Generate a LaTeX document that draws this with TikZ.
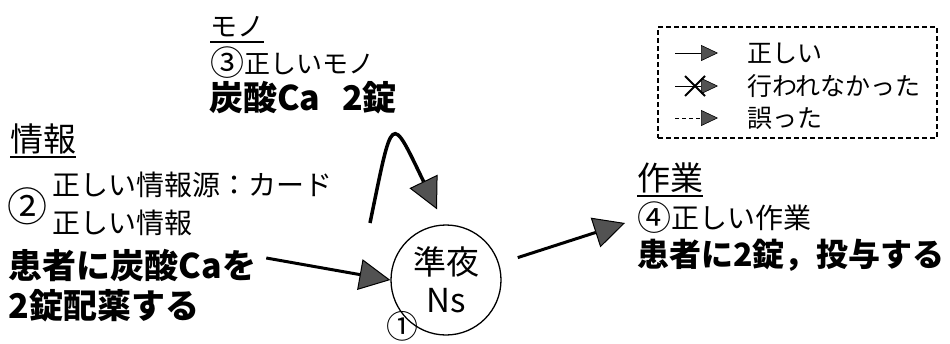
\documentclass[tikz,border=0pt]{standalone}
\usepackage{fontspec}
\setmainfont{Noto Sans CJK JP}
\usetikzlibrary{arrows.meta,calc}
\newcommand{\circnum}[2]{\raisebox{-#2}{\fontsize{34}{34}\selectfont #1}}
\begin{document}
\begin{tikzpicture}[x=1pt,y=-1pt,
  txt/.style={anchor=base west, inner sep=0pt, outer sep=0pt},
  reg/.style={txt, font=\fontsize{28}{34}\selectfont},
  bld/.style={txt, font=\fontsize{33}{40}\selectfont\bfseries},
  head/.style={txt, font=\fontsize{33}{40}\selectfont},
  legtxt/.style={txt, font=\fontsize{25}{28}\selectfont},
  uline/.style={line width=1.5pt},
  bigarrow/.style={line width=3pt, -{Triangle[length=31pt,width=31pt,fill=black!68,line width=1pt]}},
  legarrow/.style={line width=1pt, -{Triangle[length=17pt,width=16pt,fill=black!68,line width=0.6pt]}}
]
\useasboundingbox (0,0) rectangle (950,343);

% モノ
\node[txt, font=\fontsize{27}{32}\selectfont] (mono) at (210,36) {モノ};
\draw[uline] ([yshift=-6pt]mono.base west) -- ([yshift=-6pt]mono.base east);
\node[txt, font=\fontsize{26}{30}\selectfont] (m2) at (210,73) {\circnum{③}{2pt}正しいモノ};
\node[txt, font=\fontsize{34}{40}\selectfont\bfseries] (m3) at (209,110) {炭酸Ca\hspace{22pt}2錠};

% 情報
\node[head] (info) at (10,151) {情報};
\draw[uline] ([yshift=-6pt]info.base west) -- ([yshift=-6pt]info.base east);
\node[txt, font=\fontsize{40}{40}\selectfont] (c2) at (8,221) {②};
\node[reg] (i1) at (52,195) {正しい情報源：カード};
\node[reg] (i2) at (52,233) {正しい情報};
\node[txt, font=\fontsize{34}{40}\selectfont\bfseries] (i3) at (9,278) {患者に炭酸Caを};
\node[txt, font=\fontsize{34}{40}\selectfont\bfseries] (i4) at (9,318) {2錠配薬する};

% center
\node[circle, draw, line width=1.3pt, minimum size=110pt, inner sep=0pt, align=center,
      font=\fontsize{33}{38}\selectfont] (ns) at (446,280) {準夜\\Ns};
\node[font=\fontsize{32}{32}\selectfont, inner sep=0pt] (c1) at (402,326) {①};

% 作業
\node[head] (work) at (637,190) {作業};
\draw[uline] ([yshift=-6pt]work.base west) -- ([yshift=-6pt]work.base east);
\node[reg] (w2) at (637,228) {\circnum{④}{2pt}正しい作業};
\node[txt, font=\fontsize{32}{38}\selectfont\bfseries] (w3) at (637,266) {患者に2錠，投与する};

% arrows
\draw[bigarrow] ([shift={(10,-20)}]i3.base east) -- (ns.west);
\draw[bigarrow] ([shift={(18,-8)}]ns.15) -- ([shift={(-12,-5)}]w2.base west);
\coordinate (mstart) at (370,223);
\draw[bigarrow, line width=3.5pt] (mstart) .. controls (393,112) and (390,112) .. ([shift={(-9,-15)}]ns.north);

% legend
\node[draw, dash pattern=on 5pt off 3pt, line width=1.2pt, minimum width=279pt, minimum height=111pt, inner sep=0pt] (leg) at (797.5,82.5) {};
\coordinate (l1s) at (675,53); \coordinate (l1e) at (718,53);
\coordinate (l2s) at (675,86); \coordinate (l2e) at (718,86);
\coordinate (l3s) at (675,118); \coordinate (l3e) at (718,118);
\draw[legarrow] (l1s) -- (l1e);
\draw[legarrow] (l2s) -- (l2e);
\draw[line width=2pt] ([shift={(10,-10)}]l2s) -- ([shift={(30,10)}]l2s);
\draw[line width=2pt] ([shift={(10,10)}]l2s) -- ([shift={(30,-10)}]l2s);
\draw[legarrow, dash pattern=on 4pt off 3pt] (l3s) -- (l3e);
\node[legtxt] (t1) at (747,62) {正しい};
\node[legtxt] (t2) at (747,95) {行われなかった};
\node[legtxt] (t3) at (747,127) {誤った};
\end{tikzpicture}
\end{document}
